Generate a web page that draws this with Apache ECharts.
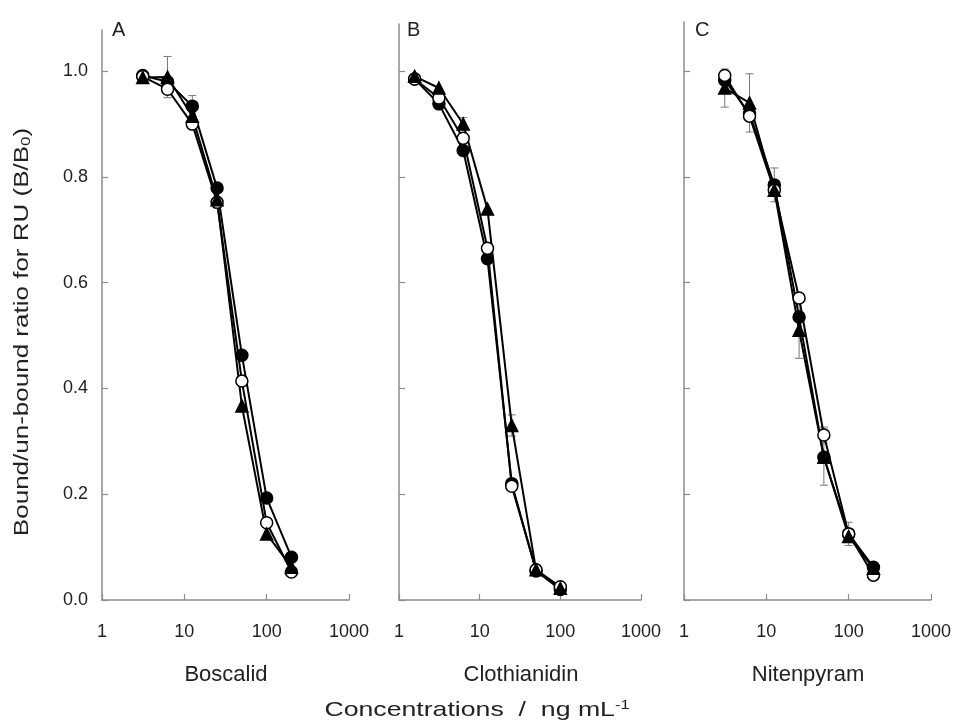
<!DOCTYPE html>
<html>
<head>
<meta charset="utf-8">
<script src="https://cdn.jsdelivr.net/npm/echarts@6/dist/echarts.min.js"></script>
<style>html,body{margin:0;padding:0;background:#fff}#c{width:954px;height:724px}</style>
</head>
<body>
<div id="c"></div>
<script>
// ---- data ----
const concA = [3.125, 6.25, 12.5, 25, 50, 100, 200];
const concB = [1.5625, 3.125, 6.25, 12.5, 25, 50, 100];
const concC = [3.125, 6.25, 12.5, 25, 50, 100, 200];

const aFilled = [0.992, 0.980, 0.934, 0.779, 0.463, 0.193, 0.081];
const aOpen   = [0.990, 0.966, 0.900, 0.752, 0.414, 0.146, 0.053];
const aTri    = [0.988, 0.989, 0.915, 0.757, 0.367, 0.125, 0.062];
const aFilledErr = [0, 0, 0.02, 0, 0, 0, 0];
const aOpenErr   = [0, 0, 0, 0, 0, 0, 0];
const aTriErr    = [0, 0.039, 0, 0, 0, 0, 0];

const bFilled = [0.985, 0.938, 0.850, 0.645, 0.220, 0.055, 0.020];
const bOpen   = [0.985, 0.949, 0.873, 0.665, 0.215, 0.057, 0.025];
const bTri    = [0.990, 0.968, 0.900, 0.739, 0.330, 0.057, 0.022];
const bFilledErr = [0, 0, 0, 0, 0, 0, 0];
const bOpenErr   = [0, 0, 0, 0, 0, 0, 0];
const bTriErr    = [0, 0, 0.012, 0, 0.02, 0, 0];

const cFilled = [0.983, 0.920, 0.785, 0.535, 0.270, 0.125, 0.062];
const cOpen   = [0.992, 0.915, 0.775, 0.571, 0.312, 0.125, 0.047];
const cTri    = [0.968, 0.940, 0.775, 0.510, 0.270, 0.120, 0.060];
const cFilledErr = [0, 0, 0.032, 0, 0.053, 0.022, 0];
const cOpenErr   = [0, 0, 0, 0, 0.015, 0, 0];
const cTriErr    = [0.036, 0.055, 0, 0.053, 0, 0, 0];

const yTicks = [0, 0.2, 0.4, 0.6, 0.8, 1.0];
const xTickLabels = ['1', '10', '100', '1000'];
const panelLabels = ['A', 'B', 'C'];
const compounds = ['Boscalid', 'Clothianidin', 'Nitenpyram'];
const yTitle = 'Bound/un-bound ratio for RU (B/B{sub|0})';
const xTitle = 'Concentrations  /  ng mL{sup|-1}';

// ---- build ----
const font = '"Liberation Sans", Arial, Helvetica, sans-serif';
const axisGray = '#8c8c8c';
const grids = [
  {left: 102, width: 247, top: 30, bottom: 124},
  {left: 399, width: 242, top: 24, bottom: 124},
  {left: 684, width: 247, top: 22, bottom: 124}
];
const yMax = [1.078, 1.089, 1.093];
const panels = [
  {x: concA, f: aFilled, o: aOpen, t: aTri, fe: aFilledErr, oe: aOpenErr, te: aTriErr},
  {x: concB, f: bFilled, o: bOpen, t: bTri, fe: bFilledErr, oe: bOpenErr, te: bTriErr},
  {x: concC, f: cFilled, o: cOpen, t: cTri, fe: cFilledErr, oe: cOpenErr, te: cTriErr}
];

const xAxes = [], yAxes = [], series = [];
panels.forEach((p, i) => {
  xAxes.push({
    gridIndex: i, type: 'log', logBase: 10, min: 1, max: 1000,
    axisLine: {lineStyle: {color: axisGray, width: 1.5}},
    axisTick: {inside: true, length: 6, lineStyle: {color: axisGray, width: 1.2}},
    minorTick: {show: false}, splitLine: {show: false},
    axisLabel: {color: '#222', fontFamily: font, fontSize: 18, margin: 23,
      formatter: v => { const k = Math.round(Math.log10(v)); return xTickLabels[k] !== undefined ? xTickLabels[k] : ''; }}
  });
  yAxes.push({
    gridIndex: i, type: 'value', min: 0, max: yMax[i],
    axisLine: {show: true, lineStyle: {color: axisGray, width: 1.5}},
    axisTick: {show: true, inside: true, length: 6, customValues: yTicks, lineStyle: {color: axisGray, width: 1.2}},
    splitLine: {show: false},
    axisLabel: {show: i === 0, customValues: yTicks, color: '#222', fontFamily: font, fontSize: 18, margin: 14,
      formatter: v => v.toFixed(1)}
  });

  const errData = [];
  [[p.f, p.fe], [p.o, p.oe], [p.t, p.te]].forEach(([vals, errs]) => {
    vals.forEach((v, k) => { if (errs[k] > 0) errData.push([p.x[k], v - errs[k], v + errs[k]]); });
  });
  series.push({
    type: 'custom', xAxisIndex: i, yAxisIndex: i, z: 1, silent: true,
    data: errData,
    renderItem: (params, api) => {
      const x = api.value(0);
      const a = api.coord([x, api.value(1)]);
      const b = api.coord([x, api.value(2)]);
      const st = {stroke: '#777', lineWidth: 1};
      return {type: 'group', children: [
        {type: 'line', shape: {x1: a[0], y1: a[1], x2: b[0], y2: b[1]}, style: st},
        {type: 'line', shape: {x1: a[0] - 4, y1: a[1], x2: a[0] + 4, y2: a[1]}, style: st},
        {type: 'line', shape: {x1: b[0] - 4, y1: b[1], x2: b[0] + 4, y2: b[1]}, style: st}
      ]};
    }
  });
  const mk = (vals, symbol, fill, size) => ({
    type: 'line', xAxisIndex: i, yAxisIndex: i, data: p.x.map((x, k) => [x, vals[k]]),
    symbol: symbol, symbolSize: size, showAllSymbol: true,
    lineStyle: {color: '#000', width: 2},
    itemStyle: {color: fill, borderColor: '#000', borderWidth: 1.5},
    z: 3, animation: false
  });
  series.push(mk(p.f, 'circle', '#000', 12));
  series.push(mk(p.o, 'circle', '#fff', 12));
  series.push(mk(p.t, 'triangle', '#000', 12));
});

const nameCenters = [226, 521, 808];
const graphics = [
  {type: 'text', left: 112, top: 20, style: {text: panelLabels[0], font: '20px ' + font, fill: '#222'}},
  {type: 'text', left: 407, top: 20, style: {text: panelLabels[1], font: '20px ' + font, fill: '#222'}},
  {type: 'text', left: 695, top: 20, style: {text: panelLabels[2], font: '20px ' + font, fill: '#222'}},
  {type: 'text', x: 477, y: 710, scaleX: 1.27, style: {
    text: xTitle, font: '21px ' + font, fill: '#222', align: 'center', verticalAlign: 'middle',
    rich: {sup: {fontSize: 13, verticalAlign: 'top', padding: [0, 0, 9, 0], fill: '#222', fontFamily: font}}}},
  {type: 'text', x: 22, y: 332, rotation: Math.PI / 2, scaleX: 1.3, style: {
    text: yTitle, font: '20px ' + font, fill: '#222', align: 'center', verticalAlign: 'middle',
    rich: {sub: {fontSize: 13, verticalAlign: 'bottom', padding: [9, 0, 0, 0], fill: '#222', fontFamily: font}}}}
];
compounds.forEach((c, i) => graphics.push({type: 'text', x: nameCenters[i], y: 675, style: {
  text: c, font: '22px ' + font, fill: '#222', align: 'center', verticalAlign: 'middle'}}));

const chart = echarts.init(document.getElementById('c'), null, {renderer: 'canvas'});
chart.setOption({
  animation: false,
  backgroundColor: '#fff',
  grid: grids,
  xAxis: xAxes,
  yAxis: yAxes,
  series: series,
  graphic: graphics
});
</script>
</body>
</html>
